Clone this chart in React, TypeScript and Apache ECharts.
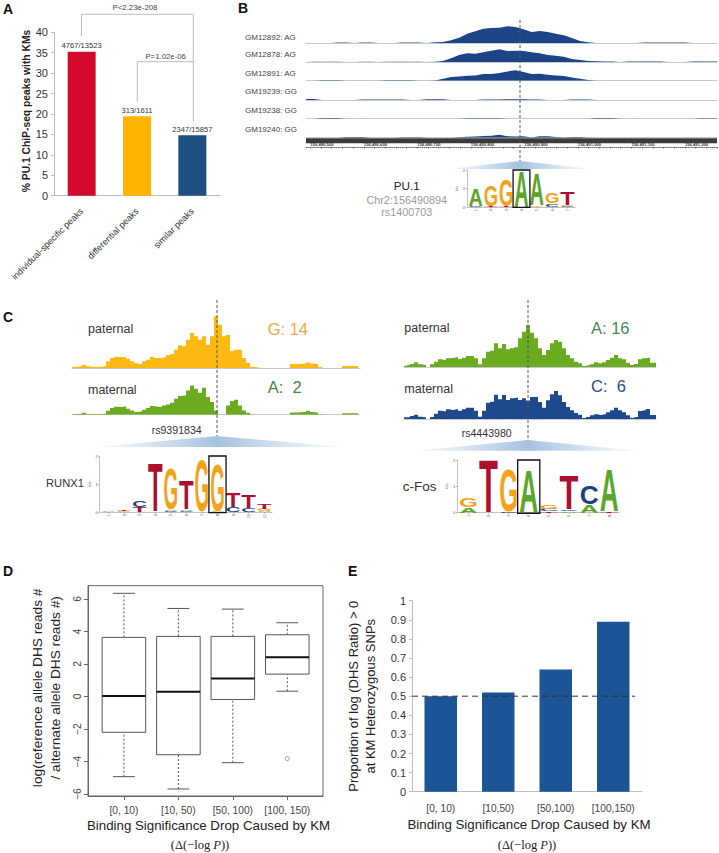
import React, { useEffect, useRef } from "react";
import * as echarts from "echarts";

const SANS = "'Liberation Sans', Arial, sans-serif";
const SERIF = "'Liberation Serif', 'Times New Roman', serif";

// Panel A
const peakCategories = ["individual-specific peaks", "differential peaks", "similar peaks"];
const peakValues = [35.25, 19.43, 14.8];
const peakCounts = ["4767/13523", "313/1611", "2347/15857"];
const peakColors = ["#d30a2c", "#ffb302", "#1f4e80"];

// Panel B
const trackNames = ["GM12892: AG", "GM12878: AG", "GM12891: AG", "GM19239: GG", "GM19238: GG", "GM19240: GG"];
const trackGM12892 = [0,0,0,0,.5,.5,0,.5,.5,0,0,0,.4,.4,.4,0,.7,1,2.7,5.3,9.3,11.7,14.3,15,15.3,16.7,16,13.7,11,12,11,9.3,7.7,5,2,.7,0,0,0,0,0,0,.5,.5,.5,.5,.5,.5,0,0,0,0];
const trackGM12878 = [0,.3,.3,.3,.3,0,0,.3,.3,0,.3,.3,.3,.3,.3,0,.3,1,3.7,7,8.7,8.3,9.7,11.3,12.7,11,11.3,11,9.7,8.7,7,6.3,5.3,3,2,1,.7,.5,.5,0,.5,.5,.5,.5,.5,0,0,0,.5,.5,.5,.5];
const trackGM12891 = [0,0,.5,.5,.5,0,0,0,0,0,.4,.4,.4,.4,0,0,.3,2,3.7,4.3,5,5.3,6.7,6.7,7.7,9.3,10.5,8.7,6.7,7,6,5.3,4.7,3.3,2,.7,0,0,0,0,0,0,0,0,0,0,0,0,0,0,0,0];
const trackGM19239 = [1,1,0,0,0,0,0,.4,.4,.4,.4,.4,.4,0,0,.7,.7,.7,0,0,0,0,.4,.4,.4,.7,.7,.7,.5,.5,0,0,0,.5,.5,.5,0,0,0,0,0,0,0,0,0,0,0,0,0,0,0,0];
const trackGM19238 = [0,0,.7,.7,.7,0,0,0,0,0,0,0,0,0,0,0,0,0,0,0,.5,.5,.5,.5,.5,0,0,0,0,0,0,0,0,0,0,0,.7,.7,.7,0,0,0,0,0,0,0,0,0,0,.5,.5,.5];
const trackGM19240 = [0,0,0,0,0,.7,.7,.7,0,0,0,0,.5,.5,.5,0,0,0,0,.5,1,1.2,1.6,2,3,1.5,1.2,1.5,.3,1.5,1.5,.7,.3,.7,.7,0,0,0,0,0,0,0,0,0,0,0,0,0,0,0,0,0];
const rulerMarks = [156490500, 156490600, 156490700, 156490800, 156490900, 156491000, 156491100, 156491200];

// Sequence logos: per position, letters stacked from the bottom with their bits
const logoPU1: [string, number][][] = [
  [["C", .03], ["A", .95]],
  [["T", .04], ["G", 1.13]],
  [["T", .05], ["G", 1.45]],
  [["A", 1.95]],
  [["G", .05], ["A", 1.75]],
  [["C", .1], ["A", .06], ["G", .6]],
  [["C", .04], ["G", .06], ["T", .7]],
];
const logoRUNX1: [string, number][][] = [
  [["A", .02]],
  [["G", .03], ["T", .04]],
  [["T", .17], ["C", .24]],
  [["T", 1.77]],
  [["C", .04], ["A", .03], ["G", 1.48]],
  [["C", .05], ["A", .05], ["T", 1.05]],
  [["G", 1.88]],
  [["A", .02], ["G", 1.7]],
  [["C", .17], ["T", .5]],
  [["C", .15], ["T", .45]],
  [["A", .05], ["G", .07], ["T", .17]],
];
const logoCFos: [string, number][][] = [
  [["A", .2], ["G", .37]],
  [["T", 2]],
  [["C", .04], ["G", 1.6]],
  [["A", 1.6]],
  [["T", .05], ["C", .07], ["G", .15]],
  [["A", .05], ["C", .05], ["T", 1.3]],
  [["A", .3], ["C", .7]],
  [["T", .05], ["A", 1.63]],
];
const logoColors: Record<string, string> = { A: "#5ba52a", C: "#1f3f85", G: "#f5a21b", T: "#ab1030" };

// Panel C
const leftPaternal = [1,1.3,1.7,3.3,1.7,1.3,1.3,1.3,1.7,6.7,10,11.3,11,10.7,9.3,6.7,4.7,4,6.7,8.3,11,10,10,10.7,12.7,14,18.3,22.7,21.7,28.3,35,31.7,28.3,31.7,23.3,31.7,51.7,43.3,31.7,33.3,17,18.3,18.3,10,5,1.3,.7,0,0,0,0,0,0,0,0,4,4,4.3,4.5,5.5,4.5,4,1,0,0,0,0,0,2,2,2,2,0];
const leftMaternal = [.7,.7,1,2,.7,.7,.7,.7,1,4,6.7,8,7.7,8.3,6,4.3,2.7,3.3,5,6.7,8.7,8.3,7.7,9.3,10.3,12,16,18.7,19.3,24.3,29.3,26,22,27,17.7,12.7,4.3,0,0,9.3,13.7,15,9.3,4.3,2,.3,0,0,0,0,0,0,0,0,0,2.3,2.3,2.5,2.7,4,2.7,2.3,.5,0,0,0,0,0,1.5,1.5,1.5,1.5,0];
const rightPaternal = [1.3,2,3,4.7,2.7,2,0,2.7,5.3,7.7,7,8.7,9,9.7,8,9.3,11,11,8.7,2.7,8.7,15.3,16.3,23.7,18.7,23,17.7,18.7,19.7,28.7,35.3,42,34.3,28.7,18.7,12,17,23.7,27,25.3,18.7,12,8.7,5.3,3.7,1,1.7,2.7,4.7,3.7,4.7,7,9.3,12,8.7,7.7,4.3,2,3,7.7,8.7,9.3,4.3,4.3];
const rightMaternal = [1.7,1.7,3,4.3,2.3,1.7,0,2,5.3,8.3,7.7,9.7,9,9.7,8.3,9.7,11.3,11.3,8.3,2.3,8.3,16.3,17.3,24.3,19.7,24,19,20.7,21.3,19,20.7,18.3,22,22,17,11.3,18.7,24.7,28,23.7,17,12,8.7,6,4.3,1,2,3.7,4.7,4,4.7,6.7,8.7,11.3,8.7,6.7,3.7,1.3,2,8,8.7,10,4,4];

// Panel D: [position, low whisker, Q1, median, Q3, high whisker]
const boxLabels = ["[0, 10)", "[10, 50)", "[50, 100)", "[100, 150)"];
const boxStats = [
  [1, -4.93, -2.2, 0.04, 3.64, 6.35],
  [2, -5.69, -3.58, 0.29, 3.7, 5.42],
  [3, -4.07, -0.18, 1.11, 3.7, 5.38],
  [4, 0.33, 1.38, 2.42, 3.8, 4.54],
];
const boxOutliers = [[4, -3.82]];

// Panel E
const propCategories = ["[0, 10)", "[10,50)", "[50,100)", "[100,150)"];
const propValues = [0.5, 0.52, 0.64, 0.89];
const propReference = [[0, 0.5], [0.97, 0.5]];

const TITLE_X = "Binding Significance Drop Caused by KM";
const TITLE_SUB = "{s|(Δ(−log }{i|P}{s|))}";

function txt(text: string, x: number, y: number, size: number, fill: string, extra: any = {}) {
  return {
    type: "text", z: 30, silent: true,
    style: { text, x, y, fontSize: size, fill, fontFamily: SANS, align: "left", verticalAlign: "middle", ...extra },
  };
}
function poly(points: number[][], color = "#bcbcbc") {
  return { type: "polyline", z: 5, silent: true, shape: { points }, style: { stroke: color, lineWidth: 1, fill: "none" } };
}
function dashed(x: number, y1: number, y2: number) {
  return { type: "line", z: 20, silent: true, shape: { x1: x, y1, x2: x, y2 }, style: { stroke: "#555", lineWidth: 1, lineDash: [3, 2] } };
}
function fan(apexX: number, apexY: number, baseY: number, x1: number, x2: number) {
  const mid = (apexX - x1) / (x2 - x1);
  return {
    type: "polygon", z: 4, silent: true,
    shape: { points: [[apexX, apexY], [x2, baseY], [x1, baseY]] },
    style: {
      fill: new echarts.graphic.LinearGradient(0, 0, 1, 0, [
        { offset: 0, color: "rgba(190,212,234,0.15)" },
        { offset: mid, color: "#a5c2e0" },
        { offset: 1, color: "rgba(190,212,234,0.15)" },
      ]),
    },
  };
}

function buildOption() {
  const grid: any[] = [];
  const xAxis: any[] = [];
  const yAxis: any[] = [];
  const series: any[] = [];
  const addGrid = (left: number, top: number, width: number, height: number) => {
    grid.push({ left, top, width, height, containLabel: false });
    return grid.length - 1;
  };

  // Signal tracks
  const addTrack = (values: number[], color: string, left: number, width: number, base: number, height: number, step: any) => {
    const g = addGrid(left, base - height, width, height);
    xAxis.push({
      gridIndex: g, type: "category", boundaryGap: false, data: values.map((_, i) => i),
      axisLine: { show: true, lineStyle: { color: "#c6cacd", width: 1 } }, axisTick: { show: false }, axisLabel: { show: false }, splitLine: { show: false },
    });
    yAxis.push({ gridIndex: g, type: "value", min: 0, max: height, show: false, splitLine: { show: false } });
    series.push({
      type: "line", xAxisIndex: g, yAxisIndex: g, data: values, symbol: "none", silent: true, step,
      lineStyle: { width: 0 }, areaStyle: { color, opacity: 1 },
    });
  };

  // Sequence logos, stacked through the logo's own axes
  const addLogo = (stack: [string, number][][], left: number, width: number, top: number, base: number, boxPos: number, tick: number) => {
    const g = addGrid(left, top, width, base - top);
    const n = stack.length;
    const positions = stack.map((_, i) => i + 1);
    xAxis.push({
      gridIndex: g, type: "value", min: 0.5, max: n + 0.5,
      axisLine: { show: true, lineStyle: { color: "#999", width: 0.6 } },
      axisTick: { show: true, length: 1.5, lineStyle: { color: "#888", width: .6 }, customValues: positions },
      axisLabel: { show: true, fontSize: 4, rotate: 90, margin: 2, color: "#555", fontFamily: SANS, customValues: positions },
      splitLine: { show: false },
    });
    yAxis.push({
      gridIndex: g, type: "value", min: 0, max: 2, interval: 1, offset: tick,
      name: "bits", nameLocation: "middle", nameGap: 2, nameRotate: 90, nameTextStyle: { fontSize: 3.5, color: "#666", fontFamily: SANS },
      axisLine: { show: true, lineStyle: { color: "#999", width: 0.6 } },
      axisTick: { show: true, length: 1.5, lineStyle: { color: "#888", width: .6 } },
      axisLabel: { show: true, fontSize: 4, margin: 2, color: "#555", fontFamily: SANS },
      splitLine: { show: false },
    });
    const rows: number[][] = [];
    const letters: string[] = [];
    stack.forEach((col, i) => {
      let acc = 0;
      col.forEach(([l, bits]) => {
        rows.push([i + 1, acc, acc + bits]);
        letters.push(l);
        acc += bits;
      });
    });
    const advance: Record<string, number> = { A: 0.722, C: 0.722, G: 0.778, T: 0.611 };
    series.push({
      type: "custom", xAxisIndex: g, yAxisIndex: g, data: rows, silent: true, clip: false,
      encode: { x: 0, y: [1, 2] },
      renderItem: (params: any, api: any) => {
        const l = letters[params.dataIndex];
        const pos = api.value(0);
        const a = api.coord([pos - 0.47, api.value(1)]);
        const b = api.coord([pos + 0.47, api.value(2)]);
        const fs = 40;
        const w = b[0] - a[0];
        const h = a[1] - b[1];
        return {
          type: "text", x: (a[0] + b[0]) / 2, y: (a[1] + b[1]) / 2,
          scaleX: w / (advance[l] * fs), scaleY: h / (0.72 * fs),
          style: { text: l, fontSize: fs, fontWeight: "bold", fontFamily: SANS, fill: logoColors[l], align: "center", verticalAlign: "middle" },
        };
      },
    });
    series.push({
      type: "custom", xAxisIndex: g, yAxisIndex: g, data: [[boxPos, -0.02, 2]], silent: true, clip: false, z: 6,
      encode: { x: 0, y: [1, 2] },
      renderItem: (_: any, api: any) => {
        const a = api.coord([api.value(0) - 0.55, api.value(1)]);
        const b = api.coord([api.value(0) + 0.55, api.value(2)]);
        return { type: "rect", shape: { x: a[0], y: b[1], width: b[0] - a[0], height: a[1] - b[1] }, style: { fill: "none", stroke: "#111", lineWidth: 1.3 } };
      },
    });
  };

  // A
  const ga = addGrid(54, 32.3, 166, 163.4);
  xAxis.push({
    gridIndex: ga, type: "category", data: peakCategories,
    axisLine: { lineStyle: { color: "#bdbdbd" } }, axisTick: { show: false },
    axisLabel: { rotate: 45, fontSize: 9, color: "#333", fontFamily: SANS, margin: 14, interval: 0 },
  });
  yAxis.push({
    gridIndex: ga, type: "value", min: 0, max: 40, interval: 5,
    name: "% PU.1 ChiP-seq peaks with KMs", nameLocation: "middle", nameGap: 23, nameRotate: 90,
    nameTextStyle: { fontSize: 10.3, fontWeight: "bold", color: "#222", fontFamily: SANS, padding: [0, 0, 0, 6] },
    axisLine: { show: true, lineStyle: { color: "#bdbdbd" } }, axisTick: { show: true, length: 3, lineStyle: { color: "#bdbdbd" } },
    axisLabel: { fontSize: 11, color: "#333", fontFamily: SANS, margin: 6 }, splitLine: { show: false },
  });
  series.push({
    type: "bar", xAxisIndex: ga, yAxisIndex: ga, barWidth: 28, silent: true,
    data: peakValues.map((value, i) => ({ value, itemStyle: { color: peakColors[i] } })),
    label: { show: true, position: "top", distance: 2, fontSize: 7.6, color: "#333", fontFamily: SANS, formatter: (p: any) => peakCounts[p.dataIndex] },
  });

  // B
  const trackColor = "#1c4587";
  [trackGM12892, trackGM12878, trackGM12891, trackGM19239, trackGM19238, trackGM19240].forEach((values, i) => {
    addTrack(values, trackColor, 306, 411, [43, 62, 80.7, 100, 118.7, 137.7][i], 18, false);
  });
  const gr = addGrid(306, 140, 411, 7);
  const minorTicks: number[] = [];
  for (let v = 156490500; v <= 156491260; v += 20) minorTicks.push(v);
  xAxis.push({
    gridIndex: gr, type: "value", min: 156490492, max: 156491260,
    axisLine: { show: true, lineStyle: { color: "#333", width: 0.7, type: [1, 1] } },
    axisTick: { show: true, length: 1.5, lineStyle: { color: "#333", width: .6 }, customValues: minorTicks },
    axisLabel: {
      show: true, inside: true, margin: 1, fontSize: 4.2, fontWeight: "bold", color: "#333", fontFamily: SANS, align: "left", customValues: rulerMarks,
      formatter: (v: number) => String(v).replace(/(\d{3})(\d{3})(\d{3})/, "$1,$2,$3"),
    },
    splitLine: { show: false },
  });
  yAxis.push({ gridIndex: gr, type: "value", show: false, min: 0, max: 1 });
  addLogo(logoPU1, 468, 107, 170, 207, 4, 1);

  // C
  addTrack(leftPaternal, "#fdb913", 72, 288, 368, 55, "middle");
  addTrack(leftMaternal, "#6aab20", 72, 288, 414.7, 35, "middle");
  addTrack(rightPaternal, "#6aab20", 404, 252, 367, 47, "middle");
  addTrack(rightMaternal, "#1e4a8d", 404, 252, 419, 34, "middle");
  addLogo(logoRUNX1, 100.7, 171.3, 456, 512, 8, 1);
  addLogo(logoCFos, 458.3, 161, 460, 512.7, 4, 1);

  // D
  const gd = addGrid(88, 585.7, 235, 210.3);
  const axisText = { color: "#444", fontFamily: SANS, fontSize: 10.2 };
  const dTicks = [-6, -4, -2, 0, 2, 4, 6];
  xAxis.push({
    gridIndex: gd, type: "value", min: 0.34, max: 4.656,
    name: TITLE_X, nameLocation: "middle", nameGap: 23,
    nameTextStyle: { fontSize: 13.3, color: "#222", fontFamily: SANS, padding: [0, 0, 0, 6] },
    axisLine: { show: true, onZero: false, lineStyle: { color: "#666" } },
    axisTick: { show: true, length: 4, lineStyle: { color: "#666" }, customValues: [1, 2, 3, 4] },
    axisLabel: { ...axisText, margin: 9, customValues: [1, 2, 3, 4], formatter: (v: number) => boxLabels[v - 1] },
    splitLine: { show: false },
  });
  yAxis.push({
    gridIndex: gd, type: "value", min: -6.12, max: 6.82,
    name: "log(reference allele DHS reads #\n/ alternate allele DHS reads #)", nameLocation: "middle", nameGap: 24, nameRotate: 90,
    nameTextStyle: { fontSize: 13.7, color: "#222", fontFamily: SANS, lineHeight: 17.5, padding: [0, 0, 0, 6] },
    axisLine: { show: true, lineStyle: { color: "#666" } },
    axisTick: { show: true, length: 4, lineStyle: { color: "#666" }, customValues: dTicks },
    axisLabel: { ...axisText, rotate: 90, margin: 6, customValues: dTicks, formatter: (v: number) => String(v).replace("-", "−") },
    splitLine: { show: false },
  });
  series.push({
    type: "custom", xAxisIndex: gd, yAxisIndex: gd, data: boxStats, silent: true,
    encode: { x: 0, y: [1, 2, 3, 4, 5] },
    renderItem: (_: any, api: any) => {
      const p = api.value(0);
      const pt = (dx: number, dim: number) => api.coord([p + dx, api.value(dim)]);
      const hw = 0.4, cap = 0.2;
      const stroke = "#555";
      const ln = (a: number[], b: number[], lineWidth: number, color: string, lineDash?: number[]) => ({
        type: "line", shape: { x1: a[0], y1: a[1], x2: b[0], y2: b[1] }, style: { stroke: color, lineWidth, lineDash },
      });
      const tl = pt(-hw, 4), br = pt(hw, 2);
      return {
        type: "group",
        children: [
          ln(pt(0, 1), pt(0, 2), 1, stroke, [2, 2]),
          ln(pt(0, 4), pt(0, 5), 1, stroke, [2, 2]),
          ln(pt(-cap, 1), pt(cap, 1), 1, stroke),
          ln(pt(-cap, 5), pt(cap, 5), 1, stroke),
          { type: "rect", shape: { x: tl[0], y: tl[1], width: br[0] - tl[0], height: br[1] - tl[1] }, style: { fill: "#fff", stroke, lineWidth: 1 } },
          ln(pt(-hw, 3), pt(hw, 3), 2, "#111"),
        ],
      };
    },
  });
  series.push({
    type: "scatter", xAxisIndex: gd, yAxisIndex: gd, data: boxOutliers, symbol: "circle", symbolSize: 4, silent: true,
    itemStyle: { color: "#fff", borderColor: "#777", borderWidth: 1 },
  });
  grid[gd].show = true;
  grid[gd].borderColor = "#666";
  grid[gd].borderWidth = 1;

  // E
  const ge = addGrid(412, 600.7, 230, 191);
  xAxis.push({
    gridIndex: ge, type: "category", data: propCategories,
    name: TITLE_X, nameLocation: "middle", nameGap: 26,
    nameTextStyle: { fontSize: 13.3, color: "#222", fontFamily: SANS, padding: [0, 0, 0, 4] },
    axisLine: { lineStyle: { color: "#bdbdbd" } }, axisTick: { show: false },
    axisLabel: { ...axisText, margin: 12, interval: 0 },
  });
  yAxis.push({
    gridIndex: ge, type: "value", min: 0, max: 1, interval: 0.1,
    name: "Proportion of log (DHS Ratio) > 0\nat KM Heterozygous SNPs", nameLocation: "middle", nameGap: 33, nameRotate: 90,
    nameTextStyle: { fontSize: 13, color: "#222", fontFamily: SANS, lineHeight: 17 },
    axisLine: { show: true, lineStyle: { color: "#bdbdbd" } }, axisTick: { show: true, length: 3, lineStyle: { color: "#bdbdbd" } },
    axisLabel: { fontSize: 11, color: "#333", fontFamily: SANS, margin: 6 }, splitLine: { show: false },
  });
  series.push({ type: "bar", xAxisIndex: ge, yAxisIndex: ge, data: propValues, barWidth: 32.5, silent: true, itemStyle: { color: "#1b5596" } });
  // Hidden second x axis lets the 0.5 reference stop short of the plot's end
  xAxis.push({ gridIndex: ge, type: "value", min: 0, max: 1, show: false });
  series.push({
    type: "line", xAxisIndex: xAxis.length - 1, yAxisIndex: ge, data: propReference, symbol: "none", silent: true, z: 5,
    lineStyle: { color: "#333", width: 1, type: [6, 4] },
  });

  const graphic = [
    txt("A", 3, 9, 14, "#111", { fontWeight: "bold" }),
    txt("B", 238, 8, 14, "#111", { fontWeight: "bold" }),
    txt("C", 3, 317, 14, "#111", { fontWeight: "bold" }),
    txt("D", 3, 571, 14, "#111", { fontWeight: "bold" }),
    txt("E", 348, 571, 14, "#111", { fontWeight: "bold" }),

    poly([[81.5, 36], [81.5, 14.3], [193.3, 14.3], [193.3, 121.5]]),
    poly([[137.3, 102], [137.3, 61.7], [193.3, 61.7]]),
    txt("P<2.23e-208", 135, 7.3, 7.8, "#444", { align: "center" }),
    txt("P=1.02e-06", 165.7, 56.7, 7.8, "#444", { align: "center" }),

    ...trackNames.map((t, i) => txt(t, 245, [37, 54.7, 73.7, 91.7, 110.7, 129.3][i], 8, "#444")),
    { type: "rect", z: 6, silent: true, shape: { x: 306, y: 138.3, width: 411, height: 5 }, style: { fill: "#3a3a3a" } },
    dashed(520, 20, 161),
    fan(520, 161, 169, 448, 592),
    txt("PU.1", 406.7, 185, 11.7, "#222", { align: "center" }),
    txt("Chr2:156490894", 406.7, 200, 10.8, "#999", { align: "center" }),
    txt("rs1400703", 406.7, 212, 10.8, "#999", { align: "center" }),

    txt("paternal", 88, 329, 12.5, "#333"),
    txt("maternal", 88, 390, 12.5, "#333"),
    txt("G: 14", 267.7, 329.3, 16.5, "#f0a84a"),
    txt("A:  2", 267.7, 387, 16.5, "#3f8a3a"),
    dashed(217, 300, 436),
    fan(217, 436, 447, 97, 343),
    txt("rs9391834", 176.7, 430, 10.6, "#333", { align: "center" }),
    txt("RUNX1", 46, 483, 11.2, "#333"),

    txt("paternal", 404.3, 328, 12.5, "#333"),
    txt("maternal", 404.3, 389, 12.5, "#333"),
    txt("A: 16", 591, 327.7, 16.5, "#3f8a55"),
    txt("C:  6", 591, 386, 16.5, "#2d4a8a"),
    dashed(528, 300, 439),
    fan(528, 440, 450.7, 415, 637),
    txt("rs4443980", 486.7, 433, 10.6, "#333", { align: "center" }),
    txt("c-Fos", 402.7, 486, 13.5, "#333"),

    ...[[200, 845], [527, 845]].map(([x, y]) => ({
      type: "text", z: 30, silent: true,
      style: {
        text: TITLE_SUB, x, y, align: "center", verticalAlign: "middle",
        rich: {
          s: { fontFamily: SERIF, fontSize: 12.5, fill: "#222" },
          i: { fontFamily: SERIF, fontSize: 12.5, fontStyle: "italic", fill: "#222" },
        },
      },
    })),
  ];

  return { animation: false, backgroundColor: "#fff", grid, xAxis, yAxis, series, graphic };
}

export default function App() {
  const ref = useRef<HTMLDivElement>(null);
  useEffect(() => {
    const chart = echarts.init(ref.current!, null, { renderer: "svg" });
    chart.setOption(buildOption() as any);
    return () => chart.dispose();
  }, []);
  return <div ref={ref} style={{ position: "absolute", left: 0, top: 0, width: 719, height: 853 }} />;
}
